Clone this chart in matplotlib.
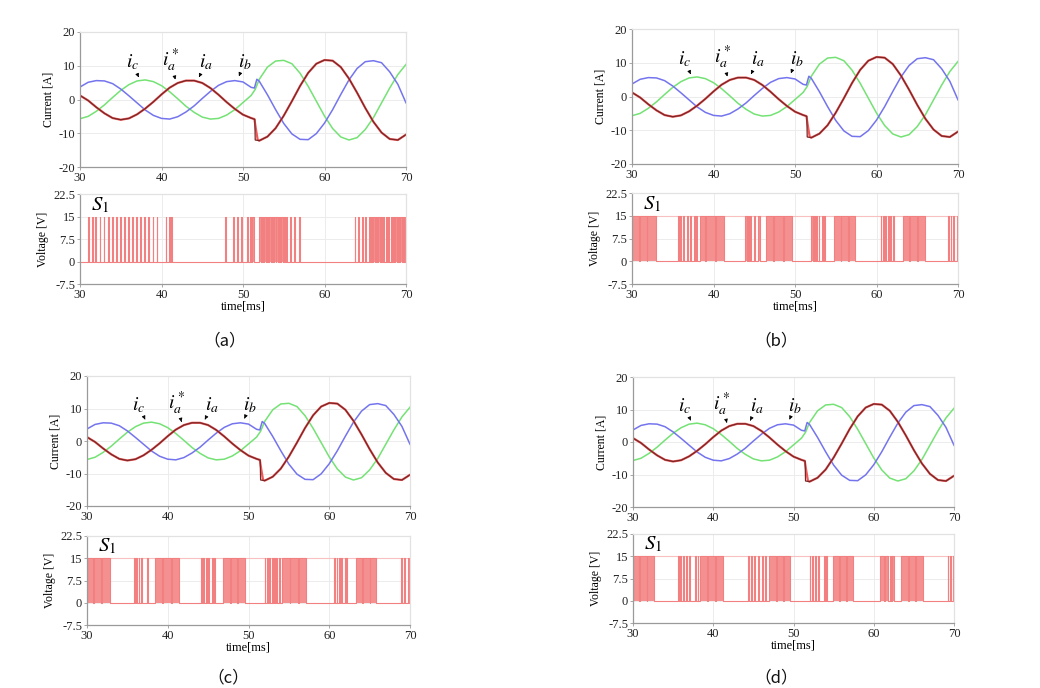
import numpy as np
import matplotlib.pyplot as plt

plt.rcParams['mathtext.fontset'] = 'stix'
plt.rcParams['axes.unicode_minus'] = False

# ---------------- data ----------------
# time bases (ms)
t_first = list(range(30, 52))            # 30..51
t_second = list(range(52, 71))           # 52..70

# reference current i_a* (A)
ia_ref_first = [1.2, -0.3, -2.3, -4.1, -5.5, -6.0, -5.6, -4.4, -2.7, -0.7, 1.5, 3.5, 4.9, 5.6, 5.6, 4.9,
                3.4, 1.4, -0.8, -2.8, -4.5, -5.5]
ia_ref_step_t = [51.45, 51.5]
ia_ref_step = [-5.9, -12.0]
ia_ref_second = [-12.2, -11.0, -8.5, -4.8, -0.5, 4.0, 7.9, 10.6, 11.7, 11.5, 9.6, 6.2, 2.0, -2.5, -6.6,
                 -9.8, -11.7, -12.0, -10.4]

# measured phase currents (A)
ia_step_t = [51.4, 51.6, 51.8]
ia_step = [-5.8, -9.0, -11.9]
ib_first = [3.7, 5.1, 5.6, 5.5, 4.7, 3.1, 1.1, -1.0, -3.1, -4.7, -5.6, -5.8, -5.1, -3.7, -1.9, 0.3,
            2.4, 4.2, 5.3, 5.6, 5.2, 3.6]
ib_step_t = [51.4, 51.7]
ib_step = [3.4, 6.0]
ib_second = [5.4, 1.4, -3.0, -7.1, -10.2, -11.8, -11.9, -10.1, -7.0, -3.0, 1.5, 5.8, 9.2, 11.2, 11.5,
             10.9, 8.2, 4.5, -1.0]
ic_first = [-5.7, -5.0, -3.5, -1.6, 0.6, 2.7, 4.4, 5.5, 5.8, 5.3, 4.1, 2.3, 0.2, -2.0, -3.8, -5.2,
            -5.8, -5.6, -4.6, -3.0, -0.9, 1.2]
ic_step_t = [51.5]
ic_step = [3.0]
ic_second = [6.0, 9.6, 11.4, 11.6, 10.6, 7.8, 3.9, -0.5, -4.9, -8.6, -11.1, -12.0, -11.3, -8.9, -5.4,
             -1.0, 3.4, 7.4, 10.4]

# gate signal S1 : (on, off) times in ms, level 15 V
s1_a = [(31.0, 31.1), (31.5, 31.6), (31.9, 32.0), (32.4, 32.5), (32.9, 33.0), (33.4, 33.5),
        (33.9, 34.0), (34.4, 34.5), (34.9, 35.0), (35.4, 35.5), (35.9, 36.0), (36.4, 36.5),
        (36.9, 37.0), (37.4, 37.5), (37.9, 38.0), (38.4, 38.5), (38.9, 39.0), (39.4, 39.5),
        (40.5, 40.6), (40.9, 41.0), (41.2, 41.3),
        (47.8, 47.9), (48.8, 48.9), (49.3, 49.4), (49.8, 49.9), (50.5, 50.6), (50.85, 51.0),
        (51.15, 51.3),
        (52.0, 52.2), (52.3, 52.5), (52.6, 52.8), (52.9, 53.1), (53.2, 53.4), (53.5, 53.7),
        (53.8, 54.0), (54.1, 54.3), (54.4, 54.6), (54.7, 54.9), (55.0, 55.2), (55.25, 55.35),
        (55.8, 55.9), (56.3, 56.4), (56.85, 56.95),
        (63.7, 63.8), (64.1, 64.2), (64.6, 64.7), (65.0, 65.1), (65.4, 65.55), (65.7, 65.85),
        (66.0, 66.15), (66.3, 66.45), (66.6, 66.75), (66.9, 67.05), (67.2, 67.35), (67.5, 67.65),
        (67.8, 67.95), (68.1, 68.25), (68.4, 68.55), (68.7, 68.85), (69.0, 69.15), (69.3, 69.45),
        (69.6, 69.75), (69.85, 70.0)]
s1_b = [(30.0, 30.9), (31.0, 31.8), (31.9, 32.9),
        (35.6, 35.75), (35.9, 36.05), (36.3, 36.4), (36.7, 36.9), (37.1, 37.2), (37.6, 37.7),
        (37.9, 38.0),
        (38.4, 39.0), (39.1, 40.2), (40.3, 41.3),
        (43.9, 44.05), (44.2, 44.35), (44.5, 44.6), (45.0, 45.1), (45.5, 45.7),
        (46.4, 47.3), (47.4, 48.5), (48.6, 49.6),
        (52.0, 52.15), (52.3, 52.4), (52.6, 52.7), (52.9, 53.0), (53.3, 53.4), (53.55, 53.65),
        (54.8, 55.6), (55.7, 56.5), (56.6, 57.4),
        (60.5, 60.6), (60.8, 60.9), (61.1, 61.2), (61.4, 61.5), (61.7, 61.8), (62.05, 62.2),
        (63.2, 64.0), (64.1, 65.0), (65.1, 65.9),
        (68.8, 68.9), (69.1, 69.2), (69.35, 69.45), (69.9, 70.0)]
s1_c = [(30.0, 30.8), (30.9, 31.7), (31.8, 32.8),
        (35.8, 35.9), (36.1, 36.2), (36.4, 36.5), (36.7, 36.8), (37.4, 37.5),
        (38.4, 39.3), (39.4, 40.4), (40.5, 41.4),
        (44.1, 44.2), (44.4, 44.5), (44.7, 44.8), (45.0, 45.1), (45.5, 45.6), (45.75, 45.85),
        (46.8, 47.7), (47.8, 48.6), (48.7, 49.6),
        (52.0, 52.1), (52.3, 52.4), (52.6, 52.7), (52.9, 53.0), (53.2, 53.3), (53.4, 53.5),
        (53.8, 53.9),
        (54.2, 55.1), (55.2, 56.1), (56.2, 57.1),
        (60.6, 60.7), (60.9, 61.0), (61.2, 61.35), (61.5, 61.6), (61.9, 62.0), (62.1, 62.2),
        (63.3, 64.1), (64.2, 65.0), (65.1, 65.8),
        (68.9, 69.0), (69.3, 69.4), (69.7, 69.9)]
s1_d = [(30.0, 30.8), (30.9, 31.7), (31.8, 32.6),
        (35.6, 35.7), (35.9, 36.0), (36.2, 36.35), (36.6, 36.7), (37.0, 37.1), (37.7, 37.8),
        (38.05, 38.15),
        (38.3, 39.2), (39.3, 40.2), (40.3, 41.2),
        (44.3, 44.4), (44.7, 44.8), (45.1, 45.2), (45.6, 45.7), (46.1, 46.2), (46.5, 46.6),
        (46.9, 47.8), (47.9, 48.7), (48.8, 49.6),
        (52.0, 52.1), (52.35, 52.45), (52.7, 52.8), (53.1, 53.2), (53.8, 53.9), (54.1, 54.2),
        (54.9, 55.7), (55.8, 56.6), (56.7, 57.4),
        (60.8, 61.3), (61.4, 61.8), (62.0, 62.1), (62.3, 62.5),
        (63.4, 64.3), (64.4, 65.2), (65.3, 66.1),
        (69.2, 69.3), (69.45, 69.6), (69.9, 70.0)]

cur_yticks = [-20, -10, 0, 10, 20]
volt_yticks = [-7.5, 0, 7.5, 15, 22.5]
volt_yticklabels = ['-7.5', '0', '7.5', '15', '22.5']
xticks = [30, 40, 50, 60, 70]
captions = ['（a）', '（b）', '（c）', '（d）']

# ---------------- layout (pixels) ----------------
W, H = 1040, 688
fig = plt.figure(figsize=(W / 100, H / 100), dpi=100)

panels = [
    dict(l=80, r=406, ct=32, cb=167, vt=194, vb=284, cap=(225, 341), s1=s1_a, top=False),
    dict(l=632, r=958, ct=29, cb=164, vt=193, vb=284, cap=(776, 341), s1=s1_b, top=True),
    dict(l=87, r=410, ct=376, cb=506, vt=536, vb=625, cap=(228, 678), s1=s1_c, top=True),
    dict(l=633, r=954, ct=377, cb=507, vt=534, vb=623, cap=(776, 678), s1=s1_d, top=True),
]

SERIF = 'Liberation Serif'
C_BLUE = '#7474ee'
C_GREEN = '#74e274'
C_RED = '#ee5a5a'
C_DARK = '#7a2626'
C_PWM = '#f38080'
C_PWM_FILL = '#f59090'


def add_ax(l, t, r, b):
    return fig.add_axes([l / W, 1 - b / H, (r - l) / W, (b - t) / H])


def style(ax):
    for s in ['left', 'bottom']:
        ax.spines[s].set_color('#9a9a9a')
        ax.spines[s].set_linewidth(0.9)
    for s in ['top', 'right']:
        ax.spines[s].set_color('#e2e2e2')
        ax.spines[s].set_linewidth(0.9)
    ax.grid(True, color='#ececec', lw=0.7)
    ax.set_axisbelow(True)
    ax.tick_params(length=2, width=0.6, color='#9a9a9a', pad=1.5, labelsize=9)
    for lab in ax.get_xticklabels() + ax.get_yticklabels():
        lab.set_family(SERIF)
        lab.set_color('#222222')
    ax.set_xlim(30, 70)
    ax.set_xticks(xticks)


ta = t_first + ia_step_t + t_second
ia = ia_ref_first + ia_step + ia_ref_second
tr = t_first + ia_ref_step_t + t_second
iar = ia_ref_first + ia_ref_step + ia_ref_second
tb = t_first + ib_step_t + t_second
ib = ib_first + ib_step + ib_second
tc = t_first + ic_step_t + t_second
ic = ic_first + ic_step + ic_second

for k, p in enumerate(panels):
    # current subplot
    ax = add_ax(p['l'], p['ct'], p['r'], p['cb'])
    ax.plot(tc, ic, color=C_GREEN, lw=1.1)
    ax.plot(tb, ib, color=C_BLUE, lw=1.1)
    ax.plot(ta, ia, color=C_RED, lw=1.6)
    ax.plot(tr, iar, color=C_DARK, lw=0.9)
    ax.set_ylim(-20, 20)
    ax.set_yticks(cur_yticks)
    style(ax)
    ax.set_ylabel('Current [A]', family=SERIF, fontsize=8.5, labelpad=3)
    arrow = dict(arrowstyle='-|>', color='black', lw=0.6, mutation_scale=5,
                 shrinkA=1, shrinkB=0)
    ax.annotate('$i_c$', xy=(37.2, 6.6), xytext=(36.4, 11.0), fontsize=14,
                ha='center', va='center', arrowprops=arrow)
    ax.annotate('$i_a^*$', xy=(41.7, 5.9), xytext=(41.1, 11.6), fontsize=14,
                ha='center', va='center', arrowprops=arrow)
    ax.annotate('$i_a$', xy=(44.6, 6.6), xytext=(45.5, 11.0), fontsize=14,
                ha='center', va='center', arrowprops=arrow)
    ax.annotate('$i_b$', xy=(49.5, 6.9), xytext=(50.2, 11.0), fontsize=14,
                ha='center', va='center', arrowprops=arrow)

    # voltage subplot
    av = add_ax(p['l'], p['vt'], p['r'], p['vb'])
    xs, ys = [30], [0]
    for on, off in p['s1']:
        xs += [on, on, off, off]
        ys += [0, 15, 15, 0]
    xs.append(70)
    ys.append(0)
    av.fill_between(xs, ys, 0, color=C_PWM_FILL, lw=0)
    if p['top']:
        av.axhline(15, color='#f8c0c0', lw=0.8)
    av.plot(xs, ys, color=C_PWM, lw=0.8)
    av.set_ylim(-7.5, 22.5)
    av.set_yticks(volt_yticks)
    av.set_yticklabels(volt_yticklabels)
    style(av)
    av.set_ylabel('Voltage [V]', family=SERIF, fontsize=8.5, labelpad=3)
    av.set_xlabel('time[ms]', family=SERIF, fontsize=9, labelpad=0)
    av.text(31.4, 19.0, '$S_1$', fontsize=15, ha='left', va='center')

    fig.text(p['cap'][0] / W, 1 - p['cap'][1] / H, captions[k],
             family=['Noto Sans CJK SC', 'DejaVu Sans'], fontsize=12,
             ha='center', va='center', color='#111111')

fig.savefig('out.png', dpi=100)
